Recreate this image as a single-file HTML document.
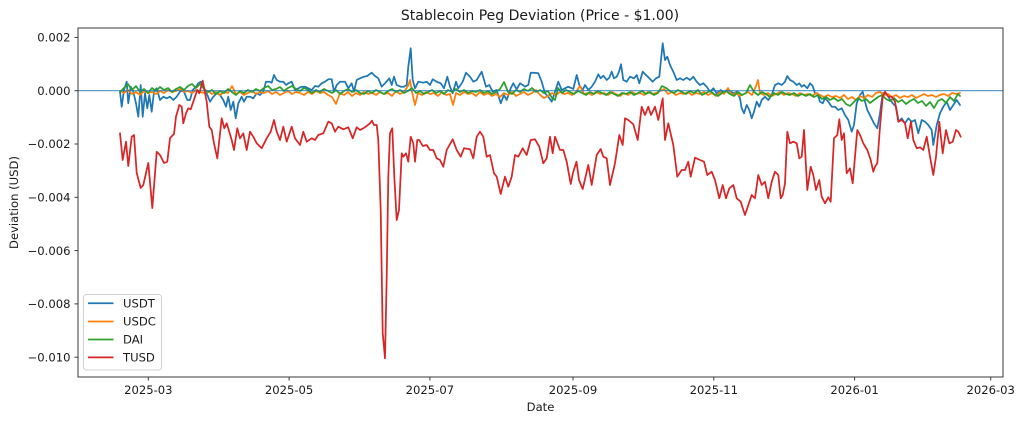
<!DOCTYPE html>
<html><head><meta charset="utf-8"><style>
html,body{margin:0;padding:0;background:#fff;}
svg{display:block;}
text{font-family:"DejaVu Sans","Liberation Sans",sans-serif;fill:#1a1a1a;}
</style></head><body>
<svg width="1024" height="422" viewBox="0 0 1024 422" xmlns="http://www.w3.org/2000/svg">
<rect x="0" y="0" width="1024" height="422" fill="#fff"/>
<text x="540" y="20" font-size="14" text-anchor="middle">Stablecoin Peg Deviation (Price - $1.00)</text>

<g fill="none" stroke-linejoin="round" stroke-linecap="round" stroke-width="1.75">
<polyline stroke="#1f77b4" points="120,91.7 121.7,106.7 124,90 126.7,81.7 128.3,103.3 130.7,86.7 133.3,91.7 136,103.3 138.3,116.7 140.7,85 142.7,116.7 145,93.3 147.3,108.3 149.3,95 151.7,111.7 154,91.7 156.7,88.3 160,100 163.3,96.7 166.7,98.3 170,96.7 173.3,100 176.7,96.7 180,91.7 183.3,90 187.3,100 190,100 192.7,90 196,86.7 198.3,83.3 200.7,81.7 203.3,86.7 206.7,93.3 210,101.7 213.3,96.7 216.7,93.3 220,95 223.3,100 226,106.7 228.3,96.7 230.7,110 233.3,101.7 235.7,118.3 238.3,103.3 241.7,96.7 244,101.7 246.7,96.7 250,96.7 253.3,98.3 256.7,93.3 260,95 263.3,91.7 266,81.7 269.3,81.7 271.7,82.7 274,75 276.7,80 280,81.7 283.3,81.7 286,85 288.3,83.3 291.7,81.7 295,90 298.3,88.3 301.7,86.7 305,86.7 308.3,88.3 311.7,90 315,86 318.3,86.7 321.7,83.3 325,81.7 328.3,79.3 331.7,79.3 334,91.7 336.7,85 340,81.7 345,81.7 348.3,88.3 351.7,83.3 354,91.7 356.7,80 360,78.3 364,76.7 367.3,76 371.7,72.7 375,76 378.3,78.3 381.7,86.7 385,83.3 389.3,78.3 391.7,85 394,76.7 396.7,85 400.7,86.7 404,86.7 406.7,85 408.3,66.7 410.7,48.3 412.7,80 415,88.3 418.3,81.7 423.3,82.7 426.7,81.7 430,85 432.7,79.3 436.7,81.7 440.7,83.3 444,88.3 447.3,76.7 450,86.7 452.7,93.3 456,81.7 458.3,88.3 462.7,81.7 466,72.7 470,76.7 473.3,81.7 476.7,80 481.7,71.7 486,86.7 489.3,85 492.7,91.7 496.7,90 500.7,103.3 504,95 506.7,100 510.7,88.3 513.3,83.3 516.7,89.3 520,83.3 522.7,85 525,86.7 528.3,85 530.7,72.7 534,72.7 538.3,73.3 541.7,81.7 545,93.3 548.3,96.7 551.7,101.7 555,91.7 558.3,81.7 561.7,90 565,88.3 568.3,86.7 573.3,89 576.7,75 579.3,85 582.7,90 585,85 588.3,90 591.7,86.7 595,81.7 598.3,74.3 600.7,78.3 603.3,75.7 606.7,80 609.3,77.7 611.7,71.7 614,78.3 616.7,76.7 619,71.7 621,64.3 623.3,80 626.7,81.7 630,76.7 634,78.3 636.7,75 639.3,83.3 642.7,71.7 646,75 649.3,78.3 652.7,81.7 656,78.3 659.3,76.7 662.7,43.3 665,60 667.3,56.7 670,65 673.3,71.7 676.7,80 680,78.3 683.3,80 686.7,77.7 690,80 693.3,76.7 696.7,81.7 700,85 703.3,83.3 706.7,86.7 710,91.7 713.3,88.3 716.7,93.3 720.7,90 724,93.3 727.3,90 730.7,91.7 734,93.3 736.7,91.7 740,98.3 741.7,108.3 744,113.3 746.7,105 749.3,110 751.7,118.3 754,111.7 756.7,101.7 759.3,106.7 761.7,100 765,96.7 768.3,100 771.7,95 775,85 778.3,83.3 781.7,85 785,81.7 787.3,76 790,80 793.3,81.7 796.7,85 799.3,83.3 801.7,86.7 804,85 807.3,88.3 810,83.3 812.7,86 815,93.3 817.3,93.3 820,101.7 822.7,103.3 825,98.3 828.3,101.7 831.7,106.7 835,106.7 838.3,110 841.7,108.3 845,115 848.3,120 851.7,131.7 854,125 856.7,103.3 860,95 862.7,91.7 865,101.7 867.3,110 870.7,116.7 874,123.3 877.3,128.3 880,113.3 882.7,93.3 886,93.3 889.3,98.3 892.7,103.3 896,106.7 898.7,121.7 901.7,118.3 905,123.3 908.3,118.3 911.7,121.7 915,120 918.3,133.3 921.7,120 925,121.7 928.3,125 931.7,130 933.3,145 936.7,125 940,113.3 943.3,106.7 946.7,101.7 950,110 953.3,105 956.7,100 960,105"/>

<polyline stroke="#ff7f0e" points="120,91 124,93 128,90 132,94 136,92 140,95 144,91 148,93 152,92 156,94 160,91 164,93 168,90 172,92 176,91 180,89 184,92 188,91 192,93 196,90 200,92 204,93 208,91 212,94 216,92 220,95 224,92 228,93 232,86 236,94 240,92 244,95 248,93 252,91 256,94 260,92 264,93 268,91 272,94 276,92 280,95 284,93 288,91 292,94 296,92 300,93 304,95 308,92 312,94 316,91 320,93 324,92 328,95 332,97 336,104 340,93 344,95 348,92 352,96 356,93 360,95 364,92 368,94 372,93 376,95 380,92 384,94 388,93 392,96 396,91 400,94 404,92 408,86 410,80 412,92 415,105 418,93 422,95 426,92 430,94 434,93 438,96 442,92 446,95 450,94 453,105 456,93 460,95 464,92 468,94 472,93 476,96 480,92 484,95 488,93 492,96 496,94 500,97 504,93 508,95 512,92 516,96 520,94 524,92 528,95 532,93 536,90 540,95 544,98 548,96 552,93 556,95 560,92 564,94 568,93 572,95 576,92 580,86 584,94 588,93 592,95 596,92 600,94 604,93 608,95 612,92 616,94 620,96 624,93 628,95 632,92 636,94 640,93 644,95 648,92 652,94 656,93 660,91 664,89 668,94 672,92 676,95 680,93 684,94 688,92 692,95 696,93 700,94 704,92 708,95 712,93 716,96 720,92 724,94 728,88 732,95 736,93 740,96 744,94 748,92 752,95 756,86 758,80 760,93 764,95 768,93 772,96 776,94 780,92 784,95 788,93 792,94 796,96 800,93 804,95 808,94 812,96 816,93 820,95 824,97 828,95 832,97 836,96 840,98 844,95 848,99 852,97 856,100 860,96 864,98 868,95 872,97 876,93 880,92 884,95 888,94 892,97 896,95 900,98 904,96 908,97 912,95 916,98 920,96 924,94 928,96 932,95 936,97 940,95 944,94 948,96 952,93 956,94 960,93"/>

<polyline stroke="#2ca02c" points="120,92 124,88 128,84 132,90 136,86 140,92 144,89 148,93 152,88 156,91 160,87 164,90 168,88 172,92 176,89 180,87 184,90 188,86 192,84 196,88 200,84 204,89 208,92 212,90 216,94 220,91 224,93 228,89 232,92 236,95 240,91 244,93 248,90 252,92 256,89 260,91 264,88 268,86 272,90 276,89 280,87 284,91 288,88 292,86 296,89 300,91 304,88 308,90 312,93 316,90 320,92 324,89 328,91 332,93 336,90 340,94 344,91 348,89 352,92 356,90 360,93 364,94 368,91 372,93 376,90 380,92 384,94 388,91 392,89 396,92 400,90 404,93 408,91 412,88 416,93 420,91 424,94 428,92 432,90 436,93 440,91 444,94 448,90 452,92 456,89 460,92 464,90 468,93 472,91 476,92 480,90 484,93 488,91 492,94 496,92 500,89 504,82 508,92 512,94 516,90 520,92 524,89 528,91 532,88 536,92 540,90 544,93 548,91 552,98 555,100 558,88 562,93 566,90 570,92 574,94 578,91 582,93 586,95 590,92 594,94 598,91 602,93 606,95 610,92 614,94 618,96 622,93 626,94 630,92 634,95 638,93 642,91 646,94 650,92 654,95 658,93 662,86 666,88 670,91 674,93 678,90 682,92 686,94 690,91 694,93 698,90 702,95 706,93 710,91 714,94 718,96 722,93 726,91 730,94 734,96 738,92 742,95 746,93 750,85 754,92 758,95 762,92 766,94 770,97 774,93 778,95 782,92 786,94 790,95 794,93 798,96 802,94 806,96 810,94 814,97 818,95 822,99 826,97 830,100 834,98 838,101 842,99 846,104 850,106 854,102 858,98 862,101 866,99 870,103 874,100 878,97 882,95 886,99 890,101 894,98 898,102 902,100 906,104 910,101 914,99 918,103 922,101 926,106 930,102 934,108 938,101 942,99 946,103 950,97 954,101 958,94 960,96"/>
</g>

<line x1="78" y1="90.7" x2="1003" y2="90.7" stroke="#1f77b4" stroke-opacity="0.8" stroke-width="1.1"/>

<polyline fill="none" stroke="#d62728" stroke-width="1.75" stroke-linejoin="round" stroke-linecap="round" points="120,133.3 122.7,160 126,141.7 128.3,166 131.7,136.7 134,135 136.7,173 140.7,188 143.3,185 148.3,163 152.3,208 156.7,151.7 160,155 164,163 167.3,161.7 170,138 174,134 176,116.7 179.3,105 181.7,106.7 183.3,123.3 186,113.3 188.3,108.3 190.7,109.3 195,96.7 197.3,90 199.3,93.3 202.7,80.7 206.7,101.7 209.3,126.7 211.7,130 214,143.3 217.3,158.3 221.7,118.3 224.3,128.3 226.7,123.3 229.3,131.7 231.7,140 234,150 237.3,128.3 240,138.3 243.3,133.3 246.7,150 250,131.7 253.3,136.7 256.7,143.3 261.7,148.3 266.7,138.3 270.7,131.7 274,120 276.7,131.7 280,140 283.3,126.7 286.7,141.7 291.7,126.7 295,138.3 300,145 303.3,131.7 306.7,141.7 311.7,138.3 315,140 318.3,135 323.3,133.3 328.3,121.7 331.7,123.3 335,131.7 338.3,126.7 343.3,129.3 348.3,127.3 352.7,138.3 356.7,127.3 360,130 363.3,128.3 366.7,126 370,123.3 372,120.7 374,125 376.7,125 378.3,140 380.7,210 382.7,333 385,358.3 386.7,276.7 388.3,176.7 390,133.3 392.3,128.3 394.3,176.7 396.7,220 399,210 401.7,153.3 403.3,156.7 406,153.3 408.3,161.7 410.7,136.7 413.3,143.3 415,161.7 417.3,140 419.3,140 422.7,146 426.7,145 430,150 433.3,150 436.7,158.3 440,160 443.3,166.7 446.7,150 452.7,139.3 456.7,150 460.7,156.7 464,148.3 470,149.3 473.3,158.3 476.7,136.7 480,131.7 483.3,136.7 486.7,156.7 490,155 494,173.3 496.7,176.7 500.7,194 505,176.7 508.3,186.7 511.7,176.7 515,155 518.3,156.7 522.7,148.3 526.7,155 530.7,140 535,139.3 539.3,146.7 543.3,163.3 546.7,158.3 550,136.7 552.7,153.3 555,136.7 560,150 563.3,150 566.7,161.7 570.7,184 573.3,171.7 576.5,161.7 579,180 582.7,189 588.3,165 591.7,185 596.7,155 600.7,149 603.3,156.7 606.7,158.3 610,185 615,163.3 619.3,135 622.7,145 625,118.3 628.3,120 633.3,124.3 637.7,140 641.7,106.7 645,115 648.3,106.7 651,115 655,106.7 658.3,120 662.7,98.3 665,140 668.3,123.3 673.3,145 677.3,176.7 681.7,170 685,170 688.3,161.7 690.7,176.7 695,157.7 700,160 704,161.7 707.3,175 711.7,171.7 715,180 719.3,198.3 722.7,185 726,198.3 729.3,188.3 733.3,185 736.7,198.3 740.7,201.7 745,215 748.3,205 751.7,195 755,198.3 758.3,175 761.7,185 765,181.7 768.3,198.3 771.7,181.7 775,171.7 778.3,175 780.7,198.3 782.7,195 785,183.3 787.3,131.7 790,143.3 793.3,141.7 796.7,143.3 799.3,158.3 801.7,156.7 804,130 807.3,190 810.7,166.7 813.3,175 816,190 819.3,180 821.7,196.7 825,203.3 828.3,197.3 830.7,201.7 834,138.3 837.3,135 839.3,119.3 841.7,140 844,133.3 846.7,173.3 850,168.3 852.7,183.3 857.3,130 860,135 863.3,143.3 867.3,150 870.7,160 873.3,171.7 875,166.7 877.3,163.3 880,126.7 882.7,96.7 885,91.7 888.3,96.7 891.7,96.7 895,101.7 898.3,121.7 901.7,120 905,123.3 907.7,138.3 911,121.7 913.3,140 916.7,148.3 920,147.3 923.3,150 926.7,136.7 930,156.7 933.3,175 936,156.7 939.3,121.7 942.7,153.3 946,130 949.3,143.3 952.7,141.7 956,130 958.3,131.7 960.7,136.7"/>

<!-- axes frame -->
<rect x="78" y="28" width="925" height="349" fill="none" stroke="#3a3a3a" stroke-width="1"/>

<!-- ticks -->
<g stroke="#3a3a3a" stroke-width="1">
<line x1="74.5" y1="37.4" x2="78" y2="37.4"/>
<line x1="74.5" y1="90.7" x2="78" y2="90.7"/>
<line x1="74.5" y1="144" x2="78" y2="144"/>
<line x1="74.5" y1="197.3" x2="78" y2="197.3"/>
<line x1="74.5" y1="250.6" x2="78" y2="250.6"/>
<line x1="74.5" y1="303.9" x2="78" y2="303.9"/>
<line x1="74.5" y1="357.2" x2="78" y2="357.2"/>
<line x1="148.3" y1="377" x2="148.3" y2="380.5"/>
<line x1="289.1" y1="377" x2="289.1" y2="380.5"/>
<line x1="429.9" y1="377" x2="429.9" y2="380.5"/>
<line x1="573" y1="377" x2="573" y2="380.5"/>
<line x1="713.8" y1="377" x2="713.8" y2="380.5"/>
<line x1="854.6" y1="377" x2="854.6" y2="380.5"/>
<line x1="990.7" y1="377" x2="990.7" y2="380.5"/>
</g>
<g font-size="11.6" text-anchor="end">
<text x="70.5" y="41.6">0.002</text>
<text x="70.5" y="94.9">0.000</text>
<text x="70.5" y="148.2">−0.002</text>
<text x="70.5" y="201.5">−0.004</text>
<text x="70.5" y="254.8">−0.006</text>
<text x="70.5" y="308.1">−0.008</text>
<text x="70.5" y="361.4">−0.010</text>
</g>
<g font-size="11.6" text-anchor="middle">
<text x="148.3" y="394">2025-03</text>
<text x="289.1" y="394">2025-05</text>
<text x="429.9" y="394">2025-07</text>
<text x="573" y="394">2025-09</text>
<text x="713.8" y="394">2025-11</text>
<text x="854.6" y="394">2026-01</text>
<text x="990.7" y="394">2026-03</text>
</g>
<text x="540.5" y="411" font-size="11.6" text-anchor="middle">Date</text>
<text x="0" y="0" font-size="11.6" text-anchor="middle" transform="translate(18.2,202.5) rotate(-90)">Deviation (USD)</text>

<!-- legend -->
<rect x="83.5" y="294.5" width="78" height="75.5" rx="3" ry="3" fill="#fff" fill-opacity="0.8" stroke="#d0d0d0" stroke-width="1"/>
<g stroke-width="1.75">
<line x1="88" y1="303.3" x2="113.5" y2="303.3" stroke="#1f77b4"/>
<line x1="88" y1="321.5" x2="113.5" y2="321.5" stroke="#ff7f0e"/>
<line x1="88" y1="339.5" x2="113.5" y2="339.5" stroke="#2ca02c"/>
<line x1="88" y1="357.4" x2="113.5" y2="357.4" stroke="#d62728"/>
</g>
<g font-size="11.6">
<text x="123" y="307.5">USDT</text>
<text x="123" y="325.7">USDC</text>
<text x="123" y="343.7">DAI</text>
<text x="123" y="361.6">TUSD</text>
</g>
</svg>
</body></html>
